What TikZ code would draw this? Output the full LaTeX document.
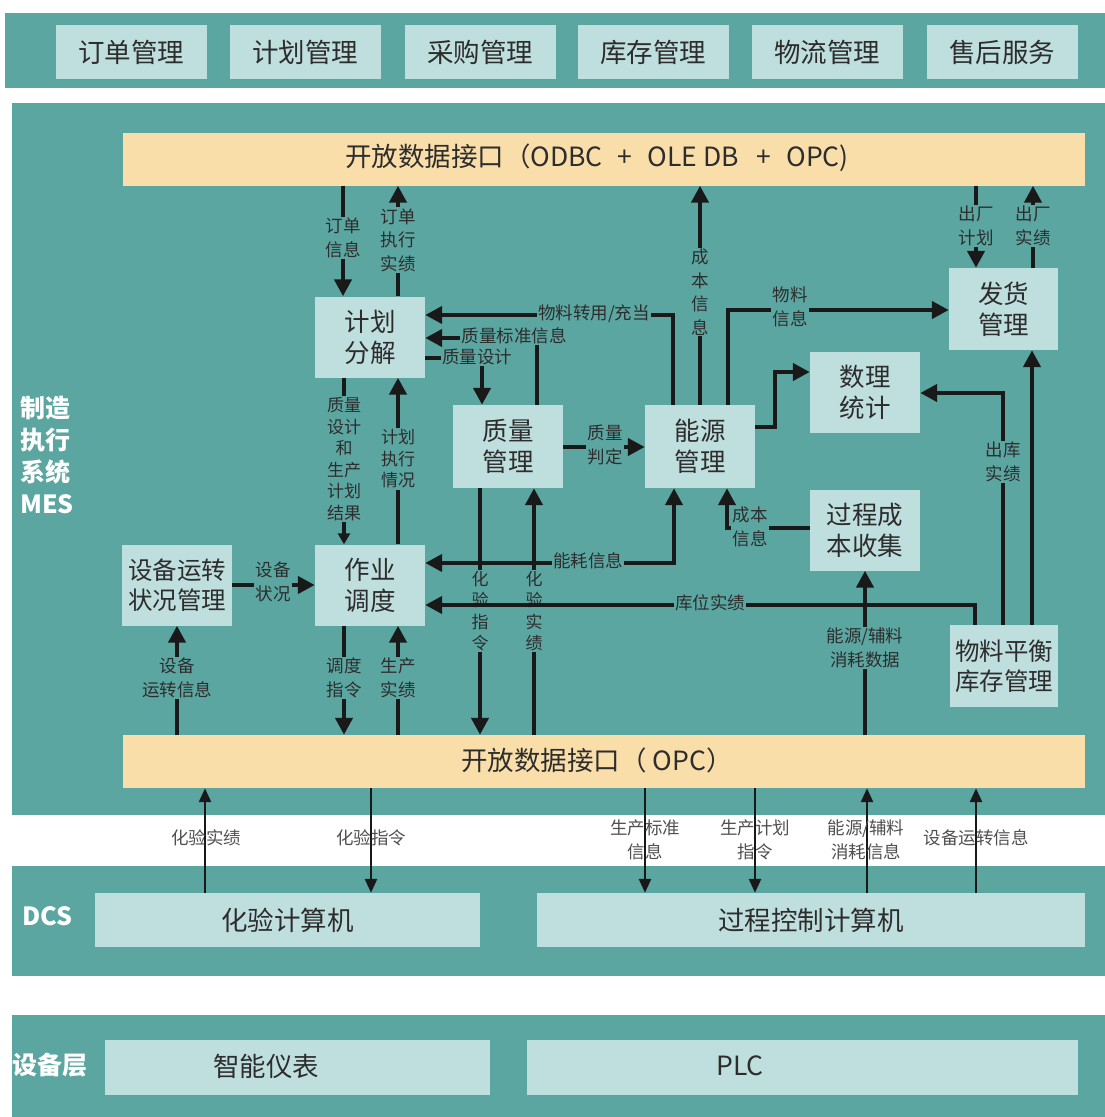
\documentclass[tikz,border=0pt]{standalone}
\usepackage{fontspec}
\newfontfamily\cjk{Noto Sans CJK SC}
\usetikzlibrary{arrows.meta}
\definecolor{teal1}{RGB}{92,166,162}
\definecolor{boxc}{RGB}{191,223,222}
\definecolor{barc}{RGB}{250,222,170}
\definecolor{txt}{RGB}{45,45,45}
\definecolor{gtxt}{RGB}{80,80,80}
\definecolor{lnc}{RGB}{25,25,25}
\tikzset{
 box/.style={fill=boxc, text=txt, font=\cjk\fontsize{25.5}{31}\selectfont, align=center, inner sep=0pt},
 tbox/.style={box, font=\cjk\fontsize{26.5}{30}\selectfont, minimum width=151pt, minimum height=54pt},
 mbox/.style={box, minimum width=110pt, minimum height=81pt},
 bar/.style={fill=barc, text=txt, font=\cjk\fontsize{26.5}{30}\selectfont, inner sep=0pt, minimum width=962pt, minimum height=53pt},
 lab/.style={fill=teal1, text=txt, font=\cjk\fontsize{17.5}{23.5}\selectfont, align=center, inner sep=1.2pt},
 vlab/.style={lab, font=\cjk\fontsize{17}{21.5}\selectfont},
 glab/.style={text=gtxt, font=\cjk\fontsize{17.5}{24}\selectfont, align=center, inner sep=0pt},
 side/.style={text=white, font=\cjk\bfseries\fontsize{25}{32}\selectfont, align=left, inner sep=0pt},
 conn/.style={draw=lnc, line width=4.5pt, -{Triangle[length=17pt,width=17pt]}},
 sconn/.style={draw=lnc, line width=4.5pt, -{Triangle[length=11pt,width=12pt]}},
 conn2/.style={draw=lnc, line width=4.5pt, {Triangle[length=17pt,width=17pt]}-{Triangle[length=17pt,width=17pt]}},
 thinc/.style={draw=lnc, line width=2.6pt, -{Triangle[length=14pt,width=12pt]}},
}
\begin{document}
\begin{tikzpicture}[x=1pt,y=-1pt]
\useasboundingbox (0,0) rectangle (1105,1117);
\fill[white] (0,0) rectangle (1105,1117);
% bands
\fill[teal1] (5,13) rectangle (1105,88);
\fill[teal1] (12,103) rectangle (1105,815);
\fill[teal1] (12,866) rectangle (1105,976);
\fill[teal1] (12,1015) rectangle (1105,1117);

% top band boxes
\node[tbox] (t1) at (131,52) {订单管理};
\node[tbox] (t2) at (305,52) {计划管理};
\node[tbox] (t3) at (480,52) {采购管理};
\node[tbox] (t4) at (653,52) {库存管理};
\node[tbox] (t5) at (827,52) {物流管理};
\node[tbox] (t6) at (1002,52) {售后服务};

% side labels
\node[side, anchor=west] (mes) at (20,455) {制造\\执行\\系统\\MES};
\node[side, anchor=west] (dcs) at (22,916) {DCS};
\node[side, anchor=west] (sbc) at (12,1065) {设备层};

% bars
\node[bar] (topbar) at (604,159) {};
\node[text=txt, font=\cjk\fontsize{26.5}{30}\selectfont, inner sep=0pt] (topbart) at (597,158) {开放数据接口（ODBC\hspace{15pt}+\hspace{15pt}OLE DB\hspace{18pt}+\hspace{15pt}OPC)};
\node[bar] (botbar) at (604,761.5) {};
\node[text=txt, font=\cjk\fontsize{26.5}{30}\selectfont, inner sep=0pt] (botbart) at (597,760) {开放数据接口（ OPC）};

% MES boxes
\node[mbox] (jhfj) at (370,337) {计划\\分解};
\node[mbox, minimum height=83pt] (zlgl) at (508,446.5) {质量\\管理};
\node[mbox, minimum height=83pt] (nygl) at (700,446.5) {能源\\管理};
\node[mbox] (slyj) at (865,392.5) {数理\\统计};
\node[mbox, minimum width=109pt, minimum height=82pt] (fhgl) at (1003.5,309) {发货\\管理};
\node[mbox] (gccb) at (865,530) {过程成\\本收集};
\node[mbox] (zydd) at (370,585) {作业\\调度};
\node[mbox, font=\cjk\fontsize{24.5}{30}\selectfont] (sbyz) at (177,585) {设备运转\\状况管理};
\node[mbox, minimum width=108pt, minimum height=82pt, font=\cjk\fontsize{24.5}{30}\selectfont] (wlph) at (1004,666) {物料平衡\\库存管理};

% DCS and device boxes
\node[box, minimum width=385pt, minimum height=54pt, font=\cjk\fontsize{26.5}{30}\selectfont] (hyjs) at (287.5,920) {化验计算机};
\node[box, minimum width=548pt, minimum height=54pt, font=\cjk\fontsize{26.5}{30}\selectfont] (gckz) at (811,920) {过程控制计算机};
\node[box, minimum width=385pt, minimum height=55pt] (znyb) at (297.5,1067.5) {};
\node[box, fill=none, font=\cjk\fontsize{26.5}{30}\selectfont] (znybt) at (266,1066) {智能仪表};
\node[box, minimum width=551pt, minimum height=55pt] (plc) at (802.5,1067.5) {};
\node[box, fill=none, font=\cjk\fontsize{26.5}{30}\selectfont] (plct) at (740,1066) {PLC};

% ---- connectors: top part ----
\draw[conn] (343,0 |- topbar.south) -- (343,0 |- jhfj.north);
\node[lab] (l1) at (343,238) {订单\\信息};
\draw[conn] (398,0 |- jhfj.north) -- (398,0 |- topbar.south);
\node[lab] (l2) at (398,240) {订单\\执行\\实绩};

\draw[conn] (673,0 |- nygl.north) |- (jhfj.east |- 0,315);
\node[lab] (l3) at (594,314) {物料转用/充当};
\draw[conn] (537,0 |- zlgl.north) |- (jhfj.east |- 0,338);
\node[lab] (l4) at (514,336) {质量标准信息};
\draw[conn] (jhfj.east |- 0,358) -| (482,0 |- zlgl.north);
\node[lab] (l5) at (477,357) {质量设计};

\draw[conn] (zlgl.east |- 0,447) -- (nygl.west |- 0,447);
\node[lab] (l6) at (605,445) {质量\\判定};

\draw[conn] (700,0 |- nygl.north) -- (700,0 |- topbar.south);
\node[lab] (l7) at (700,292) {成\\本\\信\\息};
\draw[conn] (728,0 |- nygl.north) |- (fhgl.west |- 0,310);
\node[lab] (l8) at (790,307) {物料\\信息};
\coordinate (c9) at (775,427);
\draw[conn] (nygl.east |- c9) -- (c9) |- (slyj.west |- 0,372);

\draw[conn] (976,0 |- topbar.south) -- (976,0 |- fhgl.north);
\node[lab] (l9) at (976,226) {出厂\\计划};
\draw[conn] (1033,0 |- fhgl.north) -- (1033,0 |- topbar.south);
\node[lab] (l10) at (1033,226) {出厂\\实绩};

\draw[conn] (1003,0 |- wlph.north) |- (slyj.east |- 0,393);
\node[lab] (l11) at (1003,462) {出库\\实绩};
\draw[conn] (1032,0 |- wlph.north) -- (1032,0 |- fhgl.south);

% vertical 化验 lines and their labels (before horizontal lines)
\draw[conn] (480,0 |- zlgl.south) -- (480,0 |- botbar.north);
\draw[conn] (534,0 |- botbar.north) -- (534,0 |- zlgl.south);
\node[vlab, inner sep=0.5pt] (l12) at (480,611) {化\\验\\指\\令};
\node[vlab, inner sep=0.5pt] (l13) at (534,611) {化\\验\\实\\绩};

\draw[conn] (975,0 |- wlph.north) |- (zydd.east |- 0,605);
\node[lab] (l14) at (710,603) {库位实绩};
\draw[conn2] (zydd.east |- 0,563) -| (674,0 |- nygl.south);
\node[lab] (l15) at (588,561) {能耗信息};

\draw[conn] (gccb.west |- 0,528) -| (727,0 |- nygl.south);
\node[lab] (l16) at (750,527) {成本\\信息};

\draw[conn] (865,0 |- botbar.north) -- (865,0 |- gccb.south);
\node[lab] (l17) at (865,648) {能源/辅料\\消耗数据};

% left part
\draw[conn] (sbyz.east) -- (zydd.west);
\node[lab] (l18) at (273,582) {设备\\状况};
\draw[conn] (177,0 |- botbar.north) -- (sbyz.south);
\node[lab] (l19) at (177,678) {设备\\运转信息};
\draw[conn] (344,0 |- zydd.south) -- (344,0 |- botbar.north);
\node[lab] (l20) at (344,678) {调度\\指令};
\draw[conn] (398,0 |- botbar.north) -- (398,0 |- zydd.south);
\node[lab] (l21) at (398,678) {生产\\实绩};
\draw[sconn] (344,0 |- jhfj.south) -- (344,0 |- zydd.north);
\node[vlab] (l22) at (344,459) {质量\\设计\\和\\生产\\计划\\结果};
\draw[conn] (398,0 |- zydd.north) -- (398,0 |- jhfj.south);
\node[vlab] (l23) at (398,459) {计划\\执行\\情况};

% ---- below OPC bar ----
\draw[thinc] (205,0 |- hyjs.north) -- (205,0 |- botbar.south);
\node[glab] (g1) at (206,838) {化验实绩};
\draw[thinc] (371,0 |- botbar.south) -- (371,0 |- hyjs.north);
\node[glab] (g2) at (371,838) {化验指令};
\draw[thinc] (645,0 |- botbar.south) -- (645,0 |- gckz.north);
\node[glab] (g3) at (645,840) {生产标准\\信息};
\draw[thinc] (755,0 |- botbar.south) -- (755,0 |- gckz.north);
\node[glab] (g4) at (755,840) {生产计划\\指令};
\draw[thinc] (867,0 |- gckz.north) -- (867,0 |- botbar.south);
\node[glab] (g5) at (866,840) {能源/辅料\\消耗信息};
\draw[thinc] (976,0 |- gckz.north) -- (976,0 |- botbar.south);
\node[glab] (g6) at (976,838) {设备运转信息};
\end{tikzpicture}
\end{document}
